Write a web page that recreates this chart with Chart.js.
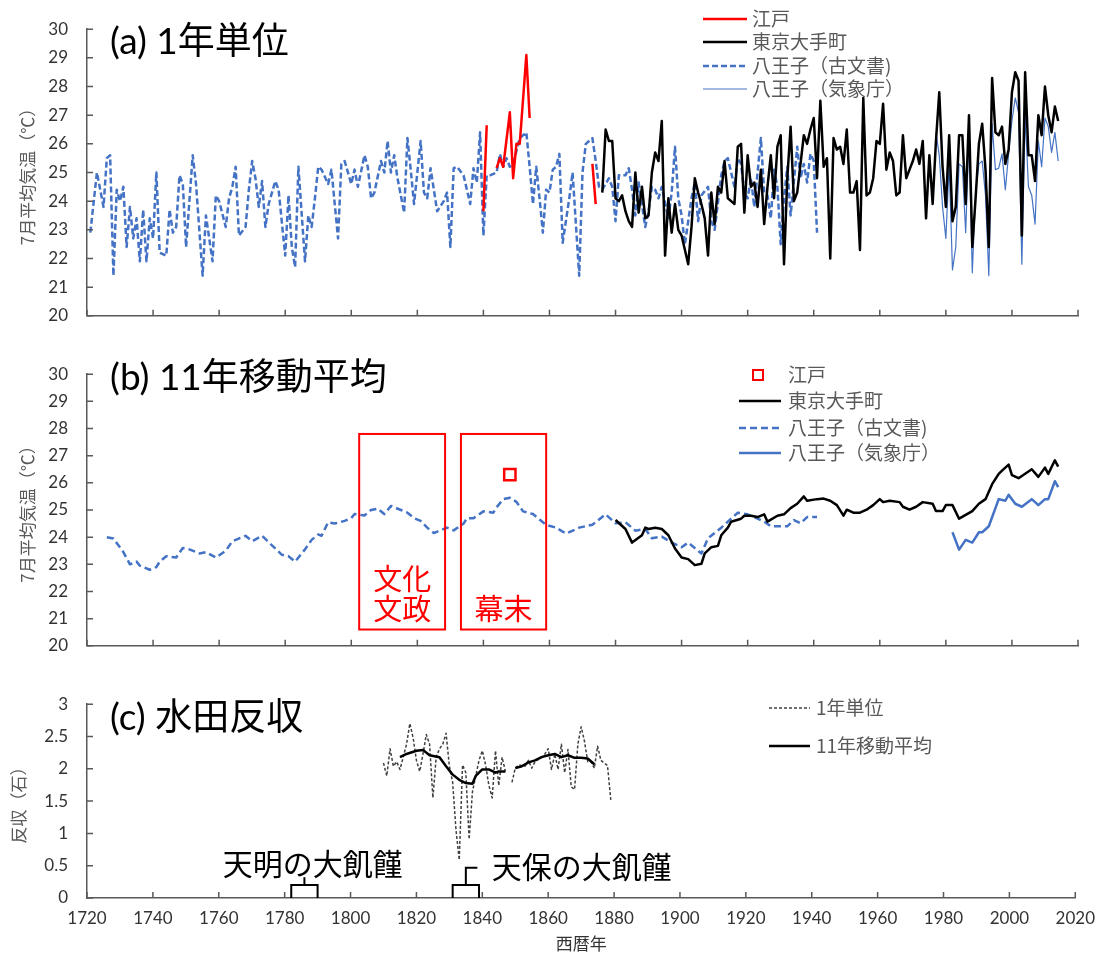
<!DOCTYPE html>
<html lang="ja">
<head>
<meta charset="utf-8">
<title>7月平均気温と水田反収</title>
<script src="https://cdn.jsdelivr.net/npm/chart.js@4.4.1/dist/chart.umd.min.js"></script>
<style>
  html, body { margin: 0; padding: 0; background: #fff; }
  .stack { position: relative; width: 1105px; height: 958px; }
  .stack canvas { position: absolute; left: 0; display: block; }
  #chartA { top: 0; }
  #chartB { top: 345px; }
  #chartC { top: 675px; }
</style>
</head>
<body>
<div class="stack">
  <canvas id="chartA" width="1105" height="345"></canvas>
  <canvas id="chartB" width="1105" height="330"></canvas>
  <canvas id="chartC" width="1105" height="283"></canvas>
</div>
<script>
/* ---------------- x axis (西暦年) ---------------- */
const yearMin = 1720;
const yearMax = 2020;
const yearStep = 20;

/* ---------------- (a) 1年単位: 7月平均気温 (℃) ---------------- */
const edoYears = [1840, 1841, 1842, 1844, 1845, 1846, 1848, 1849, 1850, 1851, 1853, 1854, 1855, 1873, 1874];
const edoTemps = [23.65, 26.65, null, 25.15, 25.5, 25.2, 27.1, 24.8, 26.0, 26.0, 29.1, 26.9, null, 25.3, 23.9];

const tokyoYears = [
  1876, 1877, 1878, 1879, 1880, 1881, 1882, 1883, 1884, 1885,
  1886, 1887, 1888, 1889, 1890, 1891, 1892, 1893, 1894, 1895,
  1896, 1897, 1898, 1899, 1900,
  1902, 1903, 1904, 1905, 1906, 1907, 1908, 1909, 1910, 1911,
  1912, 1913, 1914, 1915, 1916, 1917, 1918, 1919, 1920, 1921,
  1922, 1923, 1924, 1925, 1926, 1927, 1928, 1929, 1930, 1931,
  1932, 1933, 1934, 1935, 1936, 1937, 1938, 1939, 1940, 1941,
  1942, 1943, 1944, 1945, 1946, 1947, 1948, 1949, 1950, 1951,
  1952, 1953, 1954, 1955, 1956, 1957, 1958, 1959, 1960, 1961,
  1962, 1963, 1964, 1965, 1966, 1967, 1968, 1969, 1970, 1971,
  1972, 1973, 1974, 1975, 1976, 1977, 1978, 1979, 1980, 1981,
  1982, 1983, 1984, 1985, 1986, 1987, 1988, 1989, 1990, 1991,
  1992, 1993, 1994, 1995, 1996, 1997, 1998, 1999, 2000, 2001,
  2002, 2003, 2004, 2005, 2006, 2007, 2008, 2009, 2010, 2011,
  2012, 2013, 2014
];
const tokyoTemps = [
  24.3, 26.5, 26.1, 26.1, 24.1, 24.0, 24.2, 23.65, 23.3, 23.1,
  25.0, 23.6, 24.5, 23.4, 23.5, 25.0, 25.7, 25.4, 26.8, 22.1,
  24.1, 22.9, 23.9, 23.0, 22.8,
  21.8, 23.1, 24.8, 24.3, 23.9, 23.4, 22.1, 24.3, 23.2, 24.5,
  24.3, 25.4, 24.1, 24.0, 23.9, 25.9, 26.0, 23.6, 25.6, 24.5,
  24.65, 23.8, 25.1, 23.2, 24.5, 25.6, 24.1, 25.9, 26.3, 21.8,
  24.8, 26.6, 24.0, 24.3, 25.3, 26.3, 26.0, 26.5, 26.9, 24.8,
  27.5, 25.2, 25.5, 22.0, 26.2, 25.8, 25.9, 25.3, 26.5, 24.3,
  24.3, 24.7, 22.3, 27.6, 24.2, 24.3, 24.8, 26.1, 26.0, 27.4,
  25.1, 25.7, 25.4, 24.2, 24.3, 26.3, 24.8, 25.1, 25.4, 25.8,
  25.3, 26.1, 23.4, 25.6, 23.9, 26.1, 27.8, 25.2, 23.8, 26.3,
  23.3, 23.8, 26.3, 26.3, 23.9, 27.0, 22.4, 24.1, 26.0, 26.7,
  25.1, 22.4, 28.3, 26.4, 26.3, 26.6, 25.3, 25.8, 27.8, 28.5,
  28.2, 22.8, 28.5, 25.6, 25.6, 24.7, 27.0, 26.3, 28.0, 27.0,
  26.4, 27.3, 26.8
];

const docYears = [
  1721, 1723, 1724, 1725, 1726, 1727, 1728, 1729, 1730, 1731,
  1732, 1733, 1734, 1735, 1736, 1737, 1738, 1739, 1740, 1741,
  1742, 1744, 1745, 1746, 1747, 1748, 1749, 1750, 1752, 1753,
  1755, 1756, 1757, 1758, 1759, 1760, 1762, 1763, 1764, 1765,
  1766, 1768, 1769, 1770, 1771, 1772, 1773, 1774, 1775, 1777,
  1778, 1780, 1781, 1782, 1783, 1784, 1786, 1787, 1788, 1789,
  1790, 1791, 1793, 1794, 1796, 1797, 1798, 1800, 1801, 1802,
  1804, 1805, 1806, 1807, 1809, 1810, 1811, 1812, 1813, 1814,
  1816, 1817, 1818, 1819, 1821, 1822, 1823, 1824, 1826, 1828,
  1829, 1830, 1831, 1832, 1834, 1836, 1837, 1838, 1839, 1840,
  1841, 1842, 1844, 1845, 1846, 1847, 1848, 1849, 1851, 1853,
  1854, 1855, 1856, 1857, 1858, 1859, 1860, 1861, 1862, 1863,
  1864, 1866, 1867, 1868, 1869, 1870, 1871, 1873, 1874, 1875,
  1876, 1878, 1879, 1880, 1881, 1883, 1884, 1885, 1886, 1887,
  1889, 1890, 1891, 1892, 1893, 1894, 1896, 1897, 1898, 1899,
  1900, 1901, 1903, 1904, 1905, 1906, 1908, 1909, 1910, 1912,
  1913, 1914, 1916, 1917, 1918, 1919, 1920, 1921, 1922, 1924,
  1925, 1926, 1927, 1928, 1929, 1930, 1931, 1932, 1933, 1935,
  1936, 1937, 1938, 1939, 1940, 1941
];
const docTemps = [
  22.9, 25.0, 24.4, 23.8, 25.5, 25.6, 21.4, 24.4, 24.0, 24.5,
  22.4, 23.8, 22.7, 23.4, 21.9, 23.7, 21.9, 23.4, 22.7, 25.0,
  22.2, 22.1, 23.7, 22.9, 23.1, 24.9, 24.6, 22.4, 25.6, 24.6,
  21.4, 23.5, 22.7, 21.9, 24.2, 24.0, 23.1, 24.1, 24.5, 25.2,
  22.8, 23.1, 24.4, 25.4, 24.8, 23.8, 24.7, 23.1, 23.9, 24.7,
  24.4, 22.1, 24.2, 22.4, 21.7, 25.2, 21.9, 23.5, 23.1, 24.1,
  25.2, 25.1, 24.6, 25.1, 22.7, 25.3, 25.4, 24.6, 25.1, 24.5,
  25.6, 25.2, 24.1, 24.3, 25.4, 25.0, 26.1, 25.0, 25.6, 24.8,
  23.6, 26.2, 25.1, 23.9, 26.1, 24.3, 24.1, 25.15, 23.65, 24.0,
  24.3, 22.4, 25.15, 25.2, 24.9, 23.9, 25.15, 24.65, 26.4, 22.8,
  24.9, 24.9, 25.0, 25.65, 25.2, 25.5, 25.2, 25.3, 26.2, 26.4,
  25.2, 23.9, 25.2, 24.1, 22.9, 24.4, 24.3, 25.1, 25.2, 25.65,
  22.55, 24.1, 25.0, 23.2, 21.4, 25.0, 26.0, 26.2, 25.4, 24.5,
  24.4, 24.8, 24.5, 23.3, 24.9, 24.9, 25.15, 24.4, 23.5, 24.65,
  23.1, 23.65, 24.5, 24.4, 24.1, 24.5, 23.4, 24.3, 25.9, 24.1,
  23.5, 22.5, 24.1, 24.65, 23.3, 24.2, 24.5, 23.3, 23.0, 24.9,
  25.4, 25.5, 24.5, 25.5, 25.3, 24.3, 24.1, 24.8, 23.8, 26.2,
  24.3, 24.2, 23.4, 25.1, 24.5, 22.5, 24.1, 25.2, 23.5, 25.9,
  24.8, 25.3, 24.65, 25.65, 25.4, 22.9
];

const jmaYears = [
  1977, 1978, 1979, 1980, 1981, 1982, 1983, 1984, 1985, 1986,
  1987, 1988, 1989, 1990, 1991, 1992, 1993, 1994, 1995, 1996,
  1997, 1998, 1999, 2000, 2001, 2002, 2003, 2004, 2005, 2006,
  2007, 2008, 2009, 2010, 2011, 2012, 2013, 2014
];
const jmaTemps = [
  26.4, 25.6, 23.8, 22.7, 25.3, 21.6, 22.4, 25.3, 25.2, 22.9,
  26.3, 21.5, 24.3, 25.3, 25.4, 24.2, 21.4, 26.7, 25.1, 25.15,
  25.65, 24.4, 25.65, 26.8, 27.6, 27.1, 21.8, 27.0, 24.5, 24.2,
  23.2, 26.1, 25.2, 26.9, 26.6, 25.7, 26.4, 25.4
];

/* ---------------- (b) 11年移動平均 (℃) ---------------- */
const edoMeanYears = [1848];
const edoMeanTemps = [26.3];

const tokyoMaYears = [
  1880, 1883, 1885, 1888, 1889, 1890, 1892, 1894, 1896, 1898,
  1900, 1902, 1904, 1906, 1907, 1909, 1911, 1912, 1914, 1915,
  1918, 1919, 1921, 1923, 1925, 1926, 1929, 1931, 1933, 1935,
  1937, 1938, 1941, 1943, 1945, 1947, 1949, 1950, 1952, 1954,
  1956, 1958, 1960, 1961, 1963, 1966, 1967, 1969, 1971, 1973,
  1976, 1977, 1979, 1980, 1982, 1984, 1988, 1990, 1992, 1994,
  1996, 1997, 1999, 2000, 2002, 2006, 2008, 2010, 2011, 2013,
  2014
];
const tokyoMaTemps = [
  24.63, 24.3, 23.8, 24.07, 24.35, 24.3, 24.35, 24.3, 24.07, 23.58,
  23.25, 23.19, 22.97, 23.02, 23.4, 23.63, 23.68, 24.07, 24.35, 24.57,
  24.68, 24.79, 24.79, 24.74, 24.84, 24.57, 24.79, 24.84, 25.07, 25.23,
  25.5, 25.34, 25.4, 25.42, 25.34, 25.18, 24.79, 25.01, 24.9, 24.9,
  25.01, 25.18, 25.4, 25.29, 25.34, 25.29, 25.12, 25.01, 25.12, 25.29,
  25.23, 24.96, 24.96, 25.18, 25.18, 24.68, 24.96, 25.23, 25.4, 25.95,
  26.33, 26.45, 26.67, 26.28, 26.17, 26.5, 26.22, 26.56, 26.33, 26.83,
  26.6
];

const docMaYears = [
  1726, 1728, 1731, 1733, 1735, 1736, 1739, 1741, 1742, 1744,
  1747, 1749, 1751, 1754, 1756, 1759, 1762, 1764, 1768, 1770,
  1773, 1776, 1779, 1781, 1783, 1786, 1788, 1790, 1791, 1793,
  1795, 1798, 1800, 1801, 1804, 1806, 1808, 1810, 1812, 1815,
  1817, 1819, 1821, 1823, 1825, 1827, 1829, 1831, 1834, 1835,
  1837, 1840, 1843, 1844, 1846, 1848, 1850, 1852, 1855, 1857,
  1859, 1862, 1865, 1869, 1873, 1877, 1880, 1883, 1886, 1889,
  1891, 1894, 1897, 1900, 1902, 1906, 1908, 1912, 1914, 1917,
  1920, 1922, 1925, 1927, 1930, 1932, 1934, 1936, 1938, 1941
];
const docMaTemps = [
  24.0, 23.95, 23.45, 23.0, 23.1, 22.95, 22.8, 22.9, 23.1, 23.3,
  23.25, 23.6, 23.55, 23.4, 23.45, 23.25, 23.5, 23.85, 24.05, 23.85,
  24.05, 23.7, 23.35, 23.3, 23.1, 23.55, 23.9, 24.1, 24.05, 24.55,
  24.5, 24.6, 24.7, 24.85, 24.8, 25.0, 25.05, 24.85, 25.15, 25.0,
  24.9, 24.7, 24.6, 24.35, 24.15, 24.25, 24.35, 24.25, 24.5, 24.7,
  24.7, 24.95, 24.9, 25.1, 25.4, 25.45, 25.3, 24.95, 24.85, 24.65,
  24.45, 24.35, 24.13, 24.35, 24.46, 24.84, 24.51, 24.55, 24.24, 24.3,
  23.96, 24.02, 23.8, 23.63, 23.8, 23.4, 23.96, 24.35, 24.57, 24.9,
  24.84, 24.74, 24.57, 24.4, 24.4, 24.4, 24.63, 24.51, 24.74, 24.74
];

const jmaMaYears = [1982, 1984, 1986, 1988, 1990, 1991, 1993, 1995, 1996, 1998, 1999, 2001, 2003, 2006, 2008, 2010, 2011, 2013, 2014];
const jmaMaTemps = [24.18, 23.54, 23.9, 23.8, 24.18, 24.18, 24.4, 25.07, 25.4, 25.34, 25.56, 25.23, 25.12, 25.4, 25.18, 25.4, 25.4, 26.06, 25.84];

/* ---------------- (c) 水田反収 (石) ---------------- */
const riceYears = [
  1810, 1811, 1812, 1813, 1814, 1815, 1816, 1817, 1818, 1819,
  1820, 1821, 1822, 1823, 1824, 1825, 1826, 1827, 1828, 1829,
  1830, 1831, 1832, 1833, 1834, 1835, 1836, 1837, 1838, 1839,
  1840, 1841, 1842, 1843, 1844, 1845, 1846, 1847, 1848, 1849,
  1850, 1851, 1853, 1854, 1855, 1856, 1858, 1859, 1860, 1861,
  1862, 1863, 1864, 1865, 1866, 1867, 1868, 1869, 1870, 1871,
  1872, 1873, 1874, 1875, 1876, 1877, 1878, 1879
];
const riceYields = [
  2.09, 1.89, 2.31, 2.04, 2.11, 1.99, 2.18, 2.38, 2.70, 2.48,
  2.13, 1.96, 2.23, 2.53, 2.38, 1.55, 2.18, 2.31, 2.38, 2.55,
  2.04, 1.79, 1.06, 0.59, 2.06, 1.94, 0.91, 1.64, 1.89, 2.13,
  2.28, 2.06, 1.74, 1.55, 2.28, 1.74, 2.18, 1.96, null, 1.79,
  2.01, 2.06, 2.04, 2.13, 2.01, 2.11, 2.18, 2.23, 2.31, 1.99,
  2.23, 1.99, 2.38, 1.94, 2.30, 1.72, 1.68, 2.38, 2.65, 2.43,
  2.11, 2.11, 2.01, 2.35, 2.13, 2.09, 2.05, 1.52
];

const riceMaYears = [
  1815, 1817, 1820, 1822, 1824, 1827, 1829, 1831, 1833, 1835,
  1837, 1838, 1840, 1842, 1844, 1845, 1847, 1848, 1850, 1852,
  1854, 1856, 1858, 1860, 1862, 1864, 1866, 1868, 1870, 1872,
  1874
];
const riceMaYields = [
  2.18, 2.23, 2.28, 2.29, 2.21, 2.18, 2.04, 1.91, 1.83, 1.78,
  1.77, 1.89, 1.99, 1.99, 1.94, 1.96, 1.96, null, 2.01, 2.04,
  2.10, 2.13, 2.18, 2.21, 2.23, 2.18, 2.21, 2.17, 2.17, 2.16,
  2.07
];

(function (window, document) {
    "use strict";

    const COLOR = {
        red: "#FF0000",
        black: "#000000",
        blue: "#4472C4",
        axis: "#595959",
        tick: "#333333",
        note: "#595959",
        riceYear: "#404040"
    };
    const FONT_JP = '"Noto Sans CJK JP", sans-serif';
    const FONT_NUM = 'Lato, "Noto Sans CJK JP", sans-serif';
    const PLOT_LEFT = 87;       // width reserved for the y axis
    const PLOT_RIGHT_PAD = 27;

    function toPoints(xs, ys) {
        if (xs.length !== ys.length) console.warn("length mismatch", xs.length, ys.length);
        return xs.map((x, i) => ({ x: x, y: ys[i] }));
    }

    // 3 -> "3", 2.5 -> "2.5" (no forced trailing zero)
    const plainNumber = v => String(Number(Number(v).toFixed(2)));

    /* ---------------- Decorations: inward ticks, titles, legends, notes ---------------- */
    function makeDecor(cfg) {
        return {
            id: "decor",
            afterDatasetsDraw(chart) {
                const ctx = chart.ctx;
                const x = chart.scales.x, y = chart.scales.y;
                ctx.save();
                ctx.setLineDash([]);

                (cfg.frames || []).forEach(f => {
                    const x1 = x.getPixelForValue(f.from), x2 = x.getPixelForValue(f.to);
                    const y1 = y.getPixelForValue(f.top), y2 = y.getPixelForValue(f.bottom);
                    ctx.strokeStyle = COLOR.red;
                    ctx.lineWidth = 2;
                    ctx.strokeRect(x1, y1, x2 - x1, y2 - y1);
                    ctx.fillStyle = COLOR.red;
                    ctx.font = "29px " + FONT_JP;
                    ctx.textAlign = "center";
                    ctx.textBaseline = "middle";
                    f.lines.forEach((t, i) => ctx.fillText(t, (x1 + x2) / 2, y.getPixelForValue(f.textY[i])));
                });

                (cfg.brackets || []).forEach(b => {
                    const xl = x.getPixelForValue(b.from), xr = x.getPixelForValue(b.to);
                    const xm = x.getPixelForValue(b.stem);
                    const yb = y.getPixelForValue(0), yt = y.getPixelForValue(b.height);
                    const ys = y.getPixelForValue(b.stemTop);
                    ctx.strokeStyle = COLOR.black;
                    ctx.lineWidth = 2;
                    ctx.beginPath();
                    ctx.moveTo(xl, yb);
                    ctx.lineTo(xl, yt);
                    ctx.lineTo(xr, yt);
                    ctx.lineTo(xr, yb);
                    ctx.moveTo(xm, yt);
                    ctx.lineTo(xm, ys);
                    if (b.hookTo) ctx.lineTo(x.getPixelForValue(b.hookTo), ys);
                    ctx.stroke();
                    ctx.fillStyle = COLOR.black;
                    ctx.font = "30px " + FONT_JP;
                    ctx.textAlign = "left";
                    ctx.textBaseline = "middle";
                    ctx.fillText(b.text, x.getPixelForValue(b.textX), y.getPixelForValue(b.textY));
                });

                ctx.restore();
            },
            afterDraw(chart) {
                const ctx = chart.ctx;
                const area = chart.chartArea;
                const x = chart.scales.x, y = chart.scales.y;
                ctx.save();

                // tick marks pointing into the plot
                ctx.setLineDash([]);
                ctx.strokeStyle = COLOR.axis;
                ctx.lineWidth = 1.5;
                ctx.beginPath();
                x.ticks.forEach(t => {
                    const px = x.getPixelForValue(t.value);
                    ctx.moveTo(px, area.bottom);
                    ctx.lineTo(px, area.bottom - 6);
                });
                y.ticks.forEach(t => {
                    const py = y.getPixelForValue(t.value);
                    ctx.moveTo(area.left, py);
                    ctx.lineTo(area.left + 6, py);
                });
                ctx.stroke();

                // panel title
                ctx.fillStyle = COLOR.black;
                ctx.font = "37px " + FONT_NUM;
                ctx.textAlign = "left";
                ctx.textBaseline = "middle";
                ctx.fillText(cfg.title, area.left + 23, cfg.titleY);

                // legend
                const lg = cfg.legend;
                lg.rows.forEach(row => {
                    const label = row[0], ly = row[1];
                    const ds = chart.data.datasets.find(d => d.label === label);
                    if (!ds) return;
                    if (ds.pointStyle === "rect") {
                        ctx.setLineDash([]);
                        ctx.strokeStyle = ds.pointBorderColor;
                        ctx.fillStyle = "#FFFFFF";
                        ctx.lineWidth = 2;
                        ctx.beginPath();
                        ctx.rect(lg.markX - 5, ly - 5, 10, 10);
                        ctx.fill();
                        ctx.stroke();
                    } else {
                        ctx.strokeStyle = ds.borderColor;
                        ctx.lineWidth = ds.borderWidth;
                        ctx.setLineDash(ds.borderDash || []);
                        ctx.beginPath();
                        ctx.moveTo(lg.lineFrom, ly);
                        ctx.lineTo(lg.lineTo, ly);
                        ctx.stroke();
                    }
                    ctx.setLineDash([]);
                    ctx.fillStyle = COLOR.note;
                    ctx.font = "19px " + FONT_JP;
                    ctx.fillText(label, lg.textX, ly);
                });

                ctx.restore();
            }
        };
    }

    /* ---------------- Shared options ---------------- */
    function makeOptions(p) {
        return {
            responsive: false,
            animation: false,
            events: [],
            layout: { padding: { top: p.padTop, right: PLOT_RIGHT_PAD, bottom: 0, left: 0 } },
            elements: {
                point: { radius: 0, hoverRadius: 0 },
                line: { tension: 0, fill: false, borderJoinStyle: "round" }
            },
            plugins: { legend: { display: false }, tooltip: { enabled: false } },
            scales: {
                x: {
                    type: "linear",
                    min: yearMin,
                    max: yearMax,
                    grid: { display: false, drawTicks: false },
                    border: { display: true, color: COLOR.axis, width: 1.5 },
                    ticks: {
                        display: p.showX,
                        stepSize: yearStep,
                        autoSkip: false,
                        maxRotation: 0,
                        padding: 10,
                        color: COLOR.tick,
                        font: { family: FONT_NUM, size: 17 },
                        callback: v => String(v)
                    },
                    title: {
                        display: !!p.xTitle,
                        text: p.xTitle || "",
                        color: COLOR.tick,
                        font: { family: FONT_JP, size: 17 },
                        padding: { top: 0, bottom: 4 }
                    },
                    afterFit: s => { s.height = p.xHeight; }
                },
                y: {
                    type: "linear",
                    min: p.yMin,
                    max: p.yMax,
                    grid: { display: false, drawTicks: false },
                    border: { display: true, color: COLOR.axis, width: 1.5 },
                    ticks: {
                        stepSize: p.yStep,
                        padding: 19,
                        color: COLOR.tick,
                        font: { family: FONT_NUM, size: 17 },
                        callback: plainNumber
                    },
                    title: {
                        display: true,
                        text: p.yTitle,
                        color: COLOR.note,
                        font: { family: FONT_JP, size: 17 },
                        padding: { top: p.yTitlePad, bottom: 0 }
                    },
                    afterFit: s => { s.width = PLOT_LEFT; }
                }
            }
        };
    }

    /* ---------------- (a) 1年単位 ---------------- */
    new Chart(document.getElementById("chartA"), {
        type: "line",
        data: {
            datasets: [
                { label: "江戸", data: toPoints(edoYears, edoTemps), borderColor: COLOR.red, borderWidth: 2.5, order: 0 },
                { label: "東京大手町", data: toPoints(tokyoYears, tokyoTemps), borderColor: COLOR.black, borderWidth: 2.5, order: 1 },
                { label: "八王子（古文書)", data: toPoints(docYears, docTemps), borderColor: COLOR.blue, borderWidth: 2.5, borderDash: [6, 3], order: 3 },
                { label: "八王子（気象庁）", data: toPoints(jmaYears, jmaTemps), borderColor: COLOR.blue, borderWidth: 1.2, order: 2 }
            ]
        },
        options: makeOptions({ padTop: 29, xHeight: 15, showX: false, yMin: 20, yMax: 30, yStep: 1, yTitle: "7月平均気温（℃）", yTitlePad: 17 }),
        plugins: [makeDecor({
            title: "(a) 1年単位",
            titleY: 42,
            legend: {
                lineFrom: 703, lineTo: 747, textX: 752,
                rows: [["江戸", 19], ["東京大手町", 42], ["八王子（古文書)", 66], ["八王子（気象庁）", 89]]
            }
        })]
    });

    /* ---------------- (b) 11年移動平均 ---------------- */
    new Chart(document.getElementById("chartB"), {
        type: "line",
        data: {
            datasets: [
                {
                    label: "江戸", data: toPoints(edoMeanYears, edoMeanTemps), showLine: false,
                    pointStyle: "rect", pointRadius: 8, pointBorderWidth: 2.5,
                    pointBorderColor: COLOR.red, pointBackgroundColor: "#FFFFFF", borderColor: COLOR.red, order: 0
                },
                { label: "東京大手町", data: toPoints(tokyoMaYears, tokyoMaTemps), borderColor: COLOR.black, borderWidth: 2.5, order: 1 },
                { label: "八王子（古文書)", data: toPoints(docMaYears, docMaTemps), borderColor: COLOR.blue, borderWidth: 2.5, borderDash: [7, 4], order: 3 },
                { label: "八王子（気象庁）", data: toPoints(jmaMaYears, jmaMaTemps), borderColor: COLOR.blue, borderWidth: 2.5, order: 2 }
            ]
        },
        options: makeOptions({ padTop: 16, xHeight: 12, showX: false, yMin: 20, yMax: 30, yStep: 1, yTitle: "7月平均気温（℃）", yTitlePad: 17 }),
        plugins: [makeDecor({
            title: "(b) 11年移動平均",
            titleY: 33,
            legend: {
                lineFrom: 739, lineTo: 781, textX: 788, markX: 758,
                rows: [["江戸", 30], ["東京大手町", 56], ["八王子（古文書)", 83], ["八王子（気象庁）", 108]]
            },
            frames: [
                { from: 1802.4, to: 1828.4, top: 27.8, bottom: 20.6, lines: ["文化", "文政"], textY: [22.45, 21.37] },
                { from: 1833.2, to: 1859.0, top: 27.8, bottom: 20.6, lines: ["幕末"], textY: [21.37] }
            ]
        })]
    });

    /* ---------------- (c) 水田反収 ---------------- */
    new Chart(document.getElementById("chartC"), {
        type: "line",
        data: {
            datasets: [
                { label: "1年単位", data: toPoints(riceYears, riceYields), borderColor: COLOR.riceYear, borderWidth: 1.5, borderDash: [3, 2], order: 1 },
                { label: "11年移動平均", data: toPoints(riceMaYears, riceMaYields), borderColor: COLOR.black, borderWidth: 2.5, order: 0 }
            ]
        },
        options: makeOptions({ padTop: 20, xHeight: 60, showX: true, xTitle: "西暦年", yMin: 0, yMax: 3, yStep: 0.5, yTitle: "反収（石）", yTitlePad: 8 }),
        plugins: [makeDecor({
            title: "(c) 水田反収",
            titleY: 43,
            legend: {
                lineFrom: 769, lineTo: 810, textX: 816,
                rows: [["1年単位", 33], ["11年移動平均", 71]]
            },
            brackets: [
                { text: "天明の大飢饉", from: 1782, to: 1790, stem: 1786, height: 0.2, stemTop: 0.32, hookTo: null, textX: 1761.2, textY: 0.53 },
                { text: "天保の大飢饉", from: 1831, to: 1839, stem: 1835, height: 0.2, stemTop: 0.47, hookTo: 1838.5, textX: 1842.9, textY: 0.49 }
            ]
        })]
    });

})(window, document);
</script>
</body>
</html>
